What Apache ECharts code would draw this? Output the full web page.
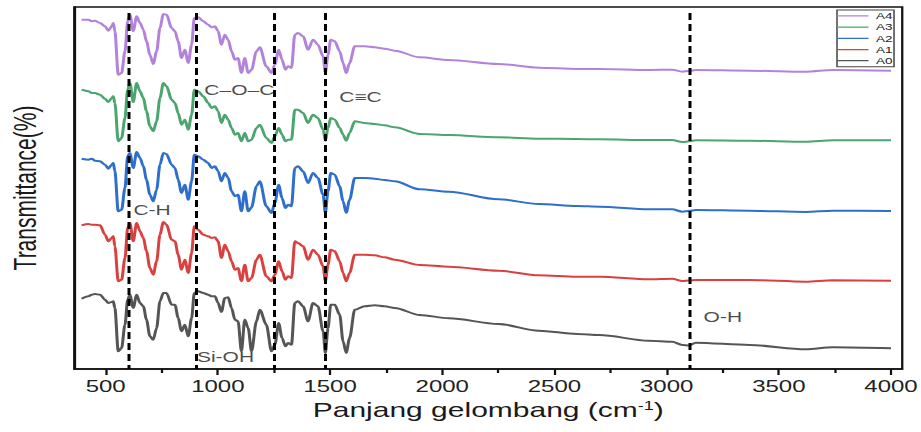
<!DOCTYPE html>
<html>
<head>
<meta charset="utf-8">
<script src="https://cdn.jsdelivr.net/npm/echarts@6/dist/echarts.min.js"></script>
<style>
  html, body { margin: 0; padding: 0; background: #fff; overflow: hidden; }
  #chart { width: 614px; height: 432px; transform: scaleX(1.5); transform-origin: 0 0; }
</style>
</head>
<body>
<div id="chart"></div>
<script>
// Wavenumber (cm^-1) sample positions
const wavenumbers = [
  393, 423, 438, 452, 475, 497, 512, 527, 534, 541,
  556, 571, 586, 598, 608, 623, 638, 653, 668, 682,
  697, 712, 727, 742, 757, 771, 794, 809, 823, 838,
  853, 868, 883, 895, 912, 935, 957, 972, 987, 1001,
  1016, 1031, 1046, 1061, 1076, 1090, 1105, 1120, 1135, 1150,
  1172, 1187, 1216, 1239, 1254, 1271, 1286, 1301, 1313, 1328,
  1343, 1357, 1380, 1402, 1424, 1446, 1469, 1479, 1491, 1503,
  1521, 1543, 1558, 1572, 1587, 1610, 1654, 1699, 1743, 1788,
  1900, 2030, 2250, 2430, 2600, 2700, 2920, 3025, 3070, 3100,
  3130, 3370, 3620, 3740, 4000
];

// Offset transmittance traces (arbitrary units)
const A4 = [
  349.3, 349.3, 347.7, 348.3, 346, 342.7, 338.3, 342.7, 346, 337.7,
  294.3, 296, 317.7, 347.7, 354.3, 337.7, 352.7, 346, 339.3, 327.7,
  314.3, 305, 317.7, 341, 355, 354.3, 341, 337.7, 327.7, 311,
  319.3, 306, 324.3, 351, 351.7, 347.7, 344.3, 341.7, 342.7, 337.7,
  324.3, 334.3, 329.3, 317.7, 309.3, 311, 296, 311, 296, 299.3,
  317.7, 321.7, 302.7, 296, 304.3, 319.3, 309.3, 299.3, 302.7, 301,
  334.3, 336, 332.7, 319.3, 329.3, 324.3, 312.7, 296, 314.3, 329.3,
  327.7, 317.7, 306, 296, 306, 322.7, 322.7, 321.7, 320.3, 318.3,
  311.7, 309, 305, 301.3, 300, 300, 299, 299.3, 297.3, 298,
  299, 298.3, 297.3, 299, 298.3
];
const A3 = [
  279.3, 277.7, 276, 276, 274.3, 270.3, 267, 271, 272.7, 266,
  227.7, 231, 251, 279.3, 286, 267, 286, 277.7, 271, 257.7,
  242.7, 237.7, 247.7, 271, 286, 282.7, 269.3, 266, 256, 244.3,
  249.3, 239.3, 254.3, 279.3, 277.7, 272.7, 266, 261, 262.7, 257.7,
  246, 254.3, 249.3, 241, 234.3, 236, 227.7, 236, 227.7, 229.3,
  241, 244.3, 231, 226, 232.7, 241, 234.3, 227.7, 229.3, 229.3,
  259.3, 259.3, 256, 246, 254.3, 251, 239.3, 228.3, 241, 251,
  249.3, 241, 234.3, 228.3, 236, 247.7, 246, 245, 243.7, 241.7,
  235, 234, 231.7, 230.3, 230, 229.7, 229, 229, 227, 227.7,
  228.7, 228.3, 227.3, 228.7, 228.7
];
const A2 = [
  210.3, 209.3, 210.3, 208.3, 207.7, 204.3, 200.3, 204.3, 206, 197.7,
  157.7, 159.3, 181, 212.7, 216, 201, 217, 211, 202.7, 189.3,
  174.3, 167.7, 179.3, 204.3, 216, 215, 204.3, 201, 189.3, 176,
  184.3, 169.3, 187.7, 214.3, 212.7, 209.3, 206, 201, 202.7, 197.7,
  187.7, 196, 191, 177.7, 172.7, 174.3, 157.7, 177.7, 157.7, 161.7,
  182.7, 187.7, 162.7, 156, 166, 184.3, 171, 161, 164.3, 162.7,
  201, 202.7, 197.7, 186, 196, 191, 174.3, 156, 177.7, 196,
  194.3, 182.7, 167.7, 156, 169.3, 191, 191, 190.3, 189, 187.7,
  179.7, 177.3, 169.7, 165, 163, 162.3, 159.7, 159.7, 157.3, 158,
  159, 158.3, 157, 158.3, 158
];
const A1 = [
  143.7, 145, 144.3, 144.3, 143.7, 134.3, 127.7, 131, 132.7, 122.7,
  87.7, 89.3, 111, 141, 146, 127.7, 146, 137.7, 131, 117.7,
  101, 94.3, 107.7, 134.3, 147, 144.3, 129.3, 127.7, 114.3, 99.3,
  109.3, 96, 116, 142.7, 139.3, 134.3, 132.7, 131, 131.7, 127.7,
  111, 124.3, 117.7, 107.7, 99.3, 101, 87.7, 104.3, 87.7, 91,
  109.3, 114.3, 92.7, 87.7, 94.3, 107.7, 97.7, 89.3, 92.7, 91,
  127.7, 126, 122.7, 109.3, 119.3, 114.3, 102.7, 87.7, 104.3, 119.3,
  117.7, 107.7, 96, 87.7, 96, 114.3, 114.3, 113.7, 111.7, 109.3,
  104, 102.3, 98.3, 93.7, 92.3, 92.3, 89.7, 90.3, 88, 88.5,
  89, 89, 87.3, 88.7, 88.3
];
const A0 = [
  70.3, 72.7, 74.3, 75, 74.3, 69.3, 66, 67, 67.7, 61,
  17.7, 21, 44.3, 69.3, 74.3, 61, 74.3, 66, 62.7, 49.3,
  32.7, 29.3, 41, 67.7, 76, 76, 64.3, 64.3, 51, 37.7,
  44.3, 32.7, 51, 76, 77.7, 76, 74.3, 72.7, 72.7, 66,
  57, 71, 71.7, 61, 49.3, 47.7, 17.7, 49.3, 41, 17.7,
  47.7, 59.3, 44.3, 17.7, 24.3, 46, 31, 22.7, 26, 24.3,
  66, 67.7, 62.7, 47.7, 66, 62.7, 37.7, 16, 41, 64.3,
  64.3, 54.3, 27.7, 16, 31, 59.3, 62.7, 63.7, 62.7, 61,
  54, 50.7, 45, 38.3, 35, 34, 28.3, 27.3, 24, 23.5,
  26.3, 24, 19.7, 21.7, 20.7
];

const seriesNames = ['A0', 'A1', 'A2', 'A3', 'A4'];
const seriesValues = [A0, A1, A2, A3, A4];
const legendOrder = ['A4', 'A3', 'A2', 'A1', 'A0'];

const majorTicks = [500, 1000, 1500, 2000, 2500, 3000, 3500, 4000];
const minorTicks = [750, 1250, 1750, 2250, 2750, 3250, 3750];

// Reference band positions (dashed lines) and annotation labels
const bandLines = [600, 900, 1250, 1480, 3100];
const annotations = [
  [933, 279, 'C–O–C'],
  [1534, 272, 'C≡C'],
  [617, 159, 'C-H'],
  [900, 12, 'Si-OH'],
  [3158, 52, 'O-H']
];

const colors = { A0: '#555555', A1: '#d94141', A2: '#2e6fcb', A3: '#4aa56e', A4: '#b383dc' };
const FONT = '"Liberation Sans", Arial, Helvetica, sans-serif';
const LEGEND_ICON = 'path://M0,0L0.01,0L0.01,11L0,11Z M0,4.7L24,4.7L24,6.1L0,6.1Z';

const chart = echarts.init(document.getElementById('chart'), null, { renderer: 'svg' });

const lineSeries = seriesNames.map((name, k) => ({
  name: name,
  type: 'line',
  data: wavenumbers.map((w, i) => [w, seriesValues[k][i]]),
  symbol: 'none',
  smooth: 0.3,
  smoothMonotone: 'x',
  lineStyle: { color: colors[name], width: 2 },
  itemStyle: { color: colors[name] },
  z: 2,
  silent: true
}));

const annoSeries = {
  name: 'annotations',
  type: 'scatter',
  data: annotations.map(a => [a[0], a[1], a[2]]),
  symbolSize: 0,
  silent: true,
  z: 5,
  label: {
    show: true,
    position: 'right',
    distance: 1,
    formatter: p => p.value[2],
    fontFamily: FONT,
    fontSize: 14,
    color: '#1a1a1a'
  },
  markLine: {
    silent: true,
    symbol: ['none', 'none'],
    label: { show: false },
    lineStyle: { color: '#000', width: 2, type: [7, 4] },
    data: bandLines.map(x => [{ coord: [x, 356] }, { coord: [x, 0] }]),
    z: 6
  }
};

chart.setOption({
  animation: false,
  backgroundColor: '#fff',
  grid: {
    left: 49.5, right: 12.5, top: 7, bottom: 63,
    outerBoundsMode: 'none',
    containLabel: false,
    show: true, borderColor: '#111', borderWidth: 1.5, backgroundColor: 'transparent'
  },
  legend: {
    data: legendOrder.map(n => ({ name: n, icon: LEGEND_ICON })),
    orient: 'vertical',
    left: 558,
    top: 10,
    padding: [0.5, 1, 0.5, 0],
    itemWidth: 21,
    itemHeight: 11,
    itemGap: 0.2,
    borderColor: '#444',
    borderWidth: 1,
    backgroundColor: '#fff',
    itemStyle: { borderWidth: 0 },
    textStyle: { fontFamily: FONT, fontSize: 9, color: '#222', lineHeight: 11 },
    z: 10
  },
  xAxis: [
    {
      type: 'value',
      min: 360,
      max: 4050,
      position: 'bottom',
      name: 'Panjang gelombang (cm{sup|-1})',
      nameLocation: 'middle',
      nameGap: 29,
      nameTextStyle: {
        fontFamily: FONT, fontSize: 20, color: '#1a1a1a',
        rich: { sup: { fontFamily: FONT, fontSize: 12, color: '#1a1a1a', verticalAlign: 'top' } }
      },
      axisLine: { show: true, lineStyle: { color: '#111', width: 1.5 } },
      axisTick: { show: true, inside: false, length: 6, customValues: majorTicks, lineStyle: { color: '#111', width: 1.5 } },
      axisLabel: {
        show: true, customValues: majorTicks, margin: 10,
        formatter: v => String(v),
        fontFamily: FONT, fontSize: 16, color: '#222'
      },
      splitLine: { show: false }
    },
    {
      type: 'value',
      min: 360,
      max: 4050,
      position: 'bottom',
      axisLine: { show: false },
      axisTick: { show: true, inside: false, length: 4, customValues: minorTicks, lineStyle: { color: '#111', width: 1.5 } },
      axisLabel: { show: false },
      splitLine: { show: false }
    }
  ],
  yAxis: {
    type: 'value',
    min: 0,
    max: 362,
    name: 'Transmittance(%)',
    nameLocation: 'middle',
    nameGap: 22,
    nameTextStyle: { fontFamily: FONT, fontSize: 21, color: '#1a1a1a' },
    axisLine: { show: true, lineStyle: { color: '#111', width: 1.5 } },
    axisTick: { show: false },
    axisLabel: { show: false },
    splitLine: { show: false }
  },
  series: [...lineSeries, annoSeries]
});
</script>
</body>
</html>
